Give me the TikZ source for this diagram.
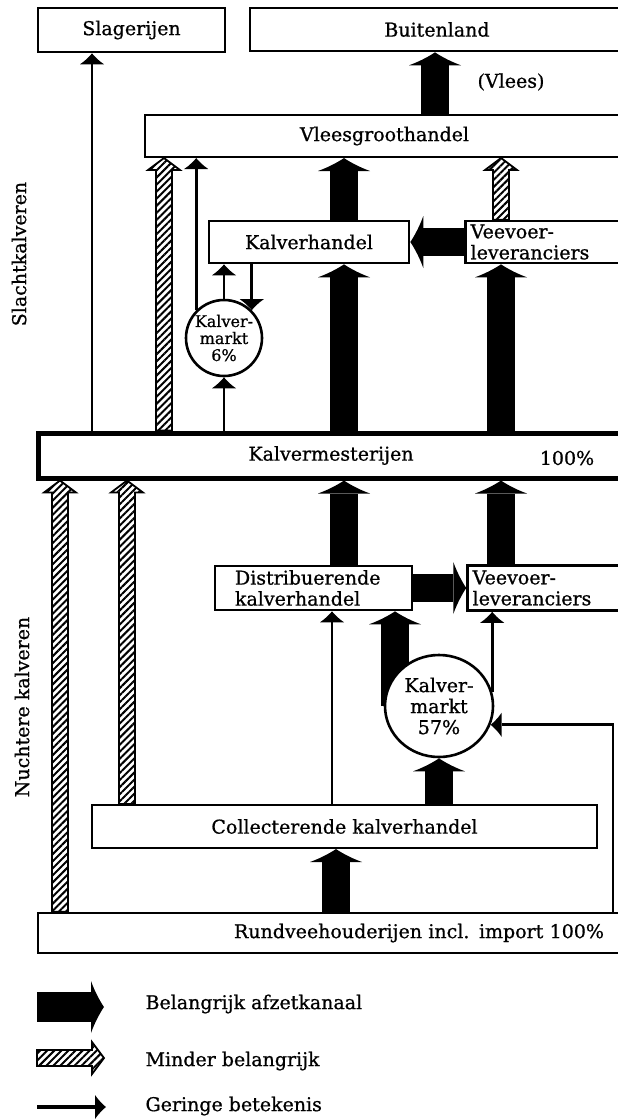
\documentclass[tikz,border=0pt]{standalone}
\usepackage{fontspec}
\setmainfont{DejaVu Serif}[BoldFont=DejaVu Serif, BoldFeatures={FakeBold=0.8}]
\usetikzlibrary{arrows.meta, positioning, shapes.geometric, calc, patterns.meta, backgrounds}

% hatched (less important) channel: #1 start, #2 tip
\newcommand{\hatcharrow}[2]{%
  \coordinate (hA) at #1;
  \coordinate (hB) at #2;
  \coordinate (hH) at ($(hB)!12pt!(hA)$);
  \filldraw[hatchfill] ($(hA)!8pt!90:(hB)$) -- ($(hH)!8pt!90:(hB)$) -- ($(hH)!16pt!90:(hB)$)
    -- (hB) -- ($(hH)!16pt!-90:(hB)$) -- ($(hH)!8pt!-90:(hB)$) -- ($(hA)!8pt!-90:(hB)$) -- cycle;}

\begin{document}
\begin{tikzpicture}[x=1pt, y=-1pt,
    font=\fontsize{19}{21}\selectfont\bfseries,
    box/.style={
        rectangle, draw, line width=2.6pt,
        minimum height=42pt, inner sep=0pt, align=center
    },
    feedbox/.style={box, text width=150pt, inner xsep=5pt, align=left},
    market/.style={draw, line width=2.6pt, fill=white, inner sep=0pt, align=center},
    bigarrow/.style={-{Latex[width=52pt, length=13pt, line width=0pt]}, line width=28pt},
    thinarrow/.style={-{Latex[width=24pt, length=11pt, line width=0pt]}, line width=2.8pt},
    hatchfill/.style={draw, line width=1.8pt, pattern={Lines[angle=45, distance=5pt, line width=2pt]}}
]
\useasboundingbox (0,0) rectangle (618,1119);

% boxes
\node (slager) [box, minimum width=187pt, minimum height=44pt] at (131.5,30) {Slagerijen};
\node (buiten) [box, minimum width=374pt, minimum height=43pt] at (437,29.5) {Buitenland};
\node (vleestxt) at (511,82) {(Vlees)};
\node (vlees) [box, line width=2pt, minimum width=479pt] at (384.5,136) {Vleesgroothandel};
\node (kalvh) [box, minimum width=200pt] at (309,242) {Kalverhandel};
\node (veevoerA) [feedbox, right=54pt of kalvh] {Veevoer-\\leveranciers};
\node (kmarkt6) [market, circle, minimum size=76pt] at (224,338) {};
\node (kmarkt6txt) [font=\fontsize{16}{17}\selectfont\bfseries, align=center] at (kmarkt6) {Kalver-\\markt\\6\%};
\node (mest) [box, line width=5pt, minimum width=586pt, minimum height=45pt] at (331,455.5) {Kalvermesterijen};
\node (mestpct) at (567,458) {100\%};
\node (distr) [box, text width=157pt, inner xsep=20pt, align=left, minimum height=44pt] at (313.5,588) {Distribuerende\\kalverhandel};
\node (veevoerB) [feedbox, minimum height=45pt, right=53pt of distr] {Veevoer-\\leveranciers};
\node (kmarkt57) [market, ellipse, minimum width=108pt, minimum height=102pt] at (439,706) {Kalver-\\markt\\57\%};
\node (coll) [box, line width=2pt, minimum width=505pt, minimum height=43pt] at (344.5,826.5) {Collecterende kalverhandel};
\node (rund) [box, text width=546pt, inner xsep=20pt, align=right, minimum height=40pt] at (331,933) {Rundveehouderijen incl. import 100\%};

\node (slacht) [rotate=90] at (19,254) {Slachtkalveren};
\node (nuchter) [rotate=90] at (22,707) {Nuchtere kalveren};

% columns
\coordinate (cS) at (92,0);
\coordinate (cH1) at (60,0);
\coordinate (cH2) at (127,0);
\coordinate (cH3) at (164,0);
\coordinate (cM) at (344,0);
\coordinate (cB) at (435,0);
\coordinate (cV) at (501,0);
\coordinate (cD) at (395,0);
\coordinate (cC) at (336,0);
\coordinate (cT) at (332,0);
\coordinate (cR) at (613,0);

% main channels
\draw [bigarrow] (vlees.north -| cB)--(buiten.south -| cB);
\draw [bigarrow] (kalvh.north -| cM)--(vlees.south -| cM);
\draw [bigarrow] (mest.north -| cM)--(kalvh.south -| cM);
\draw [bigarrow] (mest.north -| cV)--(veevoerA.south -| cV);
\draw [bigarrow] (veevoerA.west)--(kalvh.east);
\draw [bigarrow] (distr.north -| cM)--(mest.south -| cM);
\draw [bigarrow] (veevoerB.north -| cV)--(mest.south -| cV);
\draw [bigarrow] (distr.east)--(veevoerB.west);
\draw [bigarrow] (coll.north -| kmarkt57)--(kmarkt57.south);
\draw [bigarrow] (rund.north -| cC)--(coll.south -| cC);
\begin{pgfonlayer}{background}
\draw [bigarrow] (cD |- kmarkt57.center)--(distr.south -| cD);
\end{pgfonlayer}

% less important
\hatcharrow{(rund.north -| cH1)}{(mest.south -| cH1)}
\hatcharrow{(coll.north -| cH2)}{(mest.south -| cH2)}
\hatcharrow{(mest.north -| cH3)}{(vlees.south -| cH3)}
\hatcharrow{(veevoerA.north -| cV)}{(vlees.south -| cV)}

% minor
\draw [thinarrow] (mest.north -| cS)--(slager.south -| cS);
\draw [thinarrow] (kmarkt6.135)--(vlees.south -| kmarkt6.135);
\draw [thinarrow] (mest.north -| kmarkt6)--(kmarkt6.south);
\draw [thinarrow] (kmarkt6.north)--(kalvh.south -| kmarkt6);
\draw [thinarrow] (kalvh.south -| kmarkt6.45)--(kmarkt6.45);
\draw [thinarrow] (coll.north -| cT)--(distr.south -| cT);
\draw [thinarrow] (kmarkt57.15)--(veevoerB.south -| kmarkt57.15);
\draw [thinarrow] (rund.north -| cR) |- (kmarkt57.-20);

% legend
\coordinate (lgA) at (37,1007);
\coordinate (lgAend) at (104,1007);
\draw [bigarrow, line width=30pt] (lgA)--(lgAend);
\node (lgAtxt) [anchor=west] at (142,1004) {Belangrijk afzetkanaal};
\coordinate (lgB) at (37,1058);
\coordinate (lgBend) at (104,1058);
\hatcharrow{(lgB)}{(lgBend)}
\node (lgBtxt) [anchor=west] at (142,1061) {Minder belangrijk};
\coordinate (lgC) at (37,1107);
\coordinate (lgCend) at (106,1107);
\draw [thinarrow, line width=4pt] (lgC)--(lgCend);
\node (lgCtxt) [anchor=west] at (142,1106) {Geringe betekenis};
\end{tikzpicture}
\end{document}
